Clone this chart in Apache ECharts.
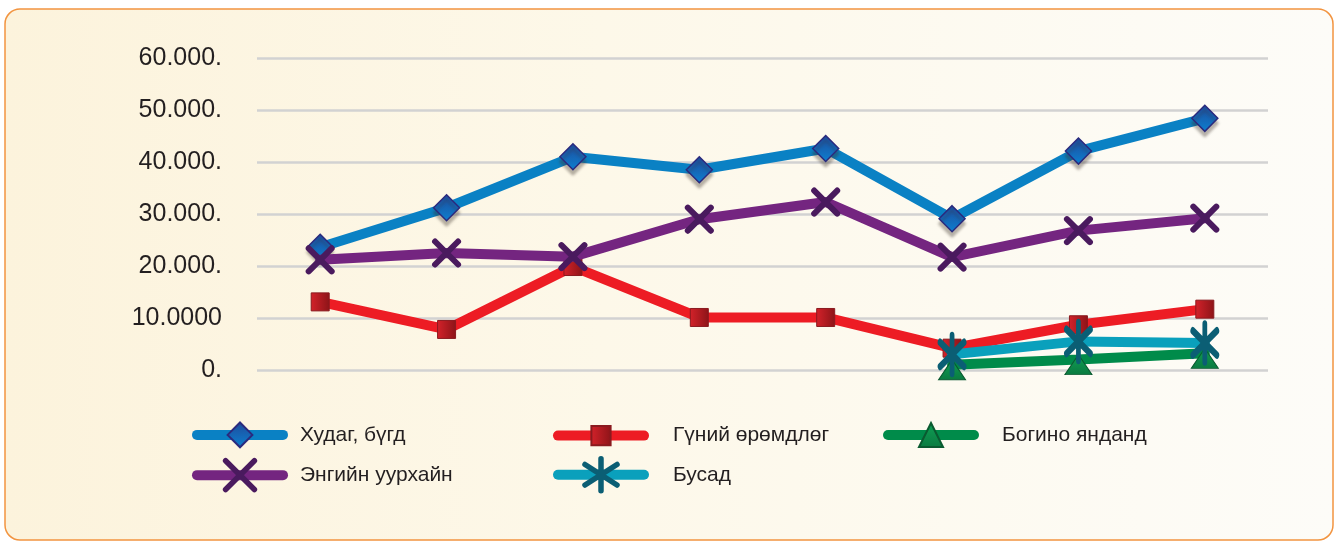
<!DOCTYPE html>
<html>
<head>
<meta charset="utf-8">
<style>
  html, body { margin: 0; padding: 0; background: #ffffff; }
  #chart { width: 1336px; height: 543px; }
</style>
<script src="https://cdn.jsdelivr.net/npm/echarts@6/dist/echarts.min.js"></script>
</head>
<body>
<div id="chart"></div>
<script>
// Periods along the horizontal axis (not labelled on the chart)
const categories = ['1', '2', '3', '4', '5', '6', '7', '8'];

// Y-axis tick labels, from 0 upwards
const yTickLabels = ['0.', '10.0000', '20.000.', '30.000.', '40.000.', '50.000.', '60.000.'];

// Series names
const seriesNames = ['Худаг, бүгд', 'Гүний өрөмдлөг', 'Богино янданд', 'Энгийн уурхайн', 'Бусад'];

// Series values
const hudagBugd     = [23600, 31200, 41000, 38500, 42600, 29100, 42100, 48400];
const guniiOromdlog = [13100, 7800, 19900, 10100, 10100, 4200, 8700, 11700];
const boginoYandand = [null, null, null, null, null, 1000, 2000, 3200];
const engiinUurhain = [21200, 22500, 21800, 29000, 32300, 21700, 26800, 29200];
const busad         = [null, null, null, null, null, 3000, 5500, 5200];

const FONT = '"Liberation Sans", Arial, sans-serif';

const crossPath = 'path://M0,0L10,10M10,0L0,10';
const starPath = 'path://M5,0L5,10M1.8,1.8L8.2,8.2M8.2,1.8L1.8,8.2';

function grad(dir, c0, c1) {
  return new echarts.graphic.LinearGradient(0, 0, dir === 'h' ? 1 : 0, dir === 'h' ? 0 : 1,
    [{ offset: 0, color: c0 }, { offset: 1, color: c1 }]);
}

const chart = echarts.init(document.getElementById('chart'), null, { renderer: 'canvas' });

// One legend per entry; centerY is the middle of the legend line
function legendAt(name, left, centerY, pad, iconH, itemStyle) {
  const l = {
    data: [name],
    left: left,
    top: centerY - iconH / 2,
    orient: 'horizontal',
    itemWidth: 86,
    itemHeight: iconH,
    padding: 0,
    selectedMode: false,
    textStyle: { fontFamily: FONT, fontSize: 21, color: '#231f20', padding: [0, 0, 0, pad] },
    lineStyle: { width: 10, cap: 'round' }
  };
  if (itemStyle) l.itemStyle = itemStyle;
  return l;
}

const option = {
  animation: false,
  graphic: [{
    type: 'rect',
    z: -10,
    silent: true,
    shape: { x: 5, y: 9, width: 1328, height: 531, r: 15 },
    style: {
      fill: new echarts.graphic.LinearGradient(0, 0, 1, 0, [
        { offset: 0, color: '#fcf3dc' },
        { offset: 0.45, color: '#fdf8e9' },
        { offset: 1, color: '#fdfcf8' }
      ]),
      stroke: '#f29440',
      lineWidth: 1.5
    }
  }],
  grid: { left: 257, right: 68, top: 58, bottom: 173, containLabel: false },
  xAxis: {
    type: 'category',
    data: categories,
    boundaryGap: true,
    axisLine: { show: false },
    axisTick: { show: false },
    axisLabel: { show: false },
    splitLine: { show: false }
  },
  yAxis: {
    type: 'value',
    min: 0,
    max: 60000,
    interval: 10000,
    axisLine: { show: false },
    axisTick: { show: false },
    axisLabel: {
      margin: 35,
      fontFamily: FONT,
      fontSize: 25,
      color: '#231f20',
      formatter: function (v) { return yTickLabels[Math.round(v / 10000)]; }
    },
    splitLine: { lineStyle: { color: '#d2d2d2', width: 2.5 } }
  },
  legend: [
    legendAt(seriesNames[0], 192, 437, 12, 31),
    legendAt(seriesNames[1], 553, 437, 24, 24),
    legendAt(seriesNames[2], 883, 437, 23, 30),
    legendAt(seriesNames[3], 192, 476, 12, 36, { borderWidth: 5.5, borderCap: 'round', borderColor: '#4a1a5e' }),
    legendAt(seriesNames[4], 553, 476, 24, 40, { borderWidth: 5.5, borderCap: 'round', borderColor: '#0b5e74' })
  ],
  series: [
    {
      name: seriesNames[0],
      type: 'line',
      z: 2,
      data: hudagBugd,
      symbol: 'diamond',
      symbolSize: 26,
      lineStyle: { color: '#0a81c4', width: 10, cap: 'round' },
      itemStyle: {
        color: grad('v', '#1f4a9a', '#0c80d0'),
        borderColor: '#2b2a7d',
        borderWidth: 1.5,
        shadowColor: 'rgba(60,50,40,0.35)',
        shadowBlur: 3,
        shadowOffsetY: 5
      }
    },
    {
      name: seriesNames[1],
      type: 'line',
      z: 3,
      data: guniiOromdlog,
      symbol: 'rect',
      symbolSize: 18,
      lineStyle: { color: '#ed1c24', width: 10, cap: 'round' },
      itemStyle: {
        color: grad('h', '#d4222a', '#8c1418'),
        borderColor: '#8a1a1f',
        borderWidth: 1
      }
    },
    {
      name: seriesNames[2],
      type: 'line',
      z: 4,
      data: boginoYandand,
      symbol: 'triangle',
      symbolSize: [27, 20],
      symbolOffset: [0, 5],
      lineStyle: { color: '#008b4a', width: 10, cap: 'round' },
      itemStyle: {
        color: grad('v', '#10a055', '#0a7a40'),
        borderColor: '#0a5a30',
        borderWidth: 1
      }
    },
    {
      name: seriesNames[3],
      type: 'line',
      z: 5,
      data: engiinUurhain,
      symbol: crossPath,
      symbolSize: 23,
      lineStyle: { color: '#742580', width: 10, cap: 'round' },
      itemStyle: {
        color: '#4a1a5e',
        borderColor: '#4a1a5e',
        borderWidth: 6,
        borderCap: 'round'
      }
    },
    {
      name: seriesNames[4],
      type: 'line',
      z: 6,
      data: busad,
      symbol: starPath,
      symbolSize: [24, 38],
      lineStyle: { color: '#0aa0bc', width: 10, cap: 'round' },
      itemStyle: {
        color: '#0b5e74',
        borderColor: '#0b5e74',
        borderWidth: 6,
        borderCap: 'round'
      }
    }
  ]
};

chart.setOption(option);
</script>
</body>
</html>
